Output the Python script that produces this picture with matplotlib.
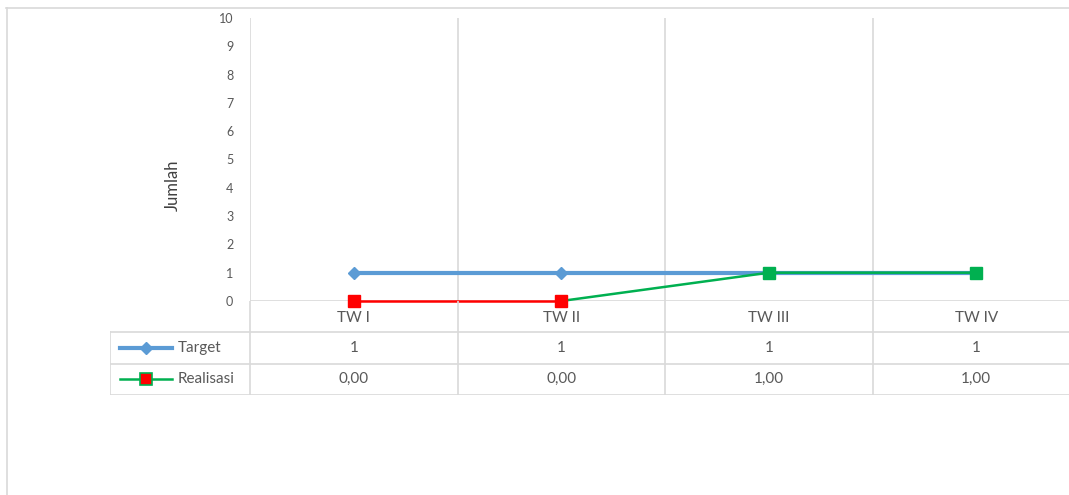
import matplotlib
matplotlib.use("Agg")
import matplotlib.pyplot as plt
from matplotlib.lines import Line2D

categories = ["TW I", "TW II", "TW III", "TW IV"]
target = [1, 1, 1, 1]
realisasi = [0.0, 0.0, 1.0, 1.0]
target_labels = ["1", "1", "1", "1"]
realisasi_labels = ["0,00", "0,00", "1,00", "1,00"]
y_ticks = list(range(0, 11))

blue = "#5B9BD5"
green = "#00B050"
red = "#FF0000"
grid = "#D9D9D9"
txt = "#595959"

plt.rcParams["font.family"] = ["Lato", "DejaVu Sans"]

W, H = 1069, 495
fig = plt.figure(figsize=(W / 100, H / 100), dpi=100)

# outer chart frame (cropped at right and bottom)
fig.add_artist(Line2D([6 / W, 1.01], [1 - 7.5 / H] * 2, color=grid, lw=1.2))
fig.add_artist(Line2D([6.5 / W] * 2, [1 - 7.5 / H, -0.01], color=grid, lw=1.2))

# pixel geometry of plot area
x0, col_w = 250, 207.5
x1 = x0 + 4 * col_w
top, base = 18, 301
tbl_bottom = 395
leg_left = 110

ax = fig.add_axes([x0 / W, 1 - base / H, (x1 - x0) / W, (base - top) / H])
ax.set_xlim(0, 4)
ax.set_ylim(0, 10)
for s in ax.spines.values():
    s.set_visible(False)
ax.set_yticks(y_ticks)
ax.tick_params(axis="y", length=0, labelsize=9, labelcolor=txt, pad=12)
ax.set_xticks([])
for i in range(0, 5):
    ax.axvline(i, color=grid, lw=1.2, zorder=0)
ax.axhline(0, color=grid, lw=1.2, zorder=0)
ax.set_ylabel("Jumlah", fontsize=12, color="#404040")
ax.yaxis.set_label_coords(-(x0 - 181) / (x1 - x0), 0.41)

xs = [i + 0.5 for i in range(len(categories))]
ax.plot(xs, target, color=blue, lw=3, marker="D", ms=6.5, zorder=3, clip_on=False)
# realisasi: red for first segment, green after
ax.plot(xs[:2], realisasi[:2], color=red, lw=1.8, zorder=4, clip_on=False)
ax.plot(xs[1:], realisasi[1:], color=green, lw=1.8, zorder=4, clip_on=False)
ax.plot(xs[:2], realisasi[:2], ls="none", marker="s", ms=8, color=red, zorder=5, clip_on=False)
ax.plot(xs[2:], realisasi[2:], ls="none", marker="s", ms=8, color=green, zorder=5, clip_on=False)

# data table below
tx = fig.add_axes([leg_left / W, 1 - tbl_bottom / H, (x1 - leg_left) / W, (tbl_bottom - base) / H])
tx.set_xlim(-(x0 - leg_left) / col_w, 4)
tx.set_ylim(3, 0)
tx.axis("off")
lx = -(x0 - leg_left) / col_w
for i in range(0, 5):
    tx.plot([i, i], [0, 3], color=grid, lw=1.2)
tx.plot([lx, lx], [1, 3], color=grid, lw=1.2)
for r in [1, 2, 3]:
    tx.plot([lx, 4], [r, r], color=grid, lw=1.2)

for i, c in enumerate(categories):
    tx.text(xs[i], 0.55, c, ha="center", va="center", fontsize=11, color=txt)
    tx.text(xs[i], 1.5, target_labels[i], ha="center", va="center", fontsize=11, color=txt)
    tx.text(xs[i], 2.5, realisasi_labels[i], ha="center", va="center", fontsize=11, color=txt)

# legend keys in table
kx0, kx1 = lx + 10 / col_w, lx + 62 / col_w
km = (kx0 + kx1) / 2
tx.plot([kx0, kx1], [1.5, 1.5], color=blue, lw=3)
tx.plot([km], [1.5], marker="D", ms=6.5, color=blue)
tx.plot([kx0, kx1], [2.5, 2.5], color=green, lw=1.8)
tx.plot([km], [2.5], marker="s", ms=8, color=red, mec=green, mew=1.2)
tx.text(lx + 68 / col_w, 1.5, "Target", ha="left", va="center", fontsize=11, color=txt)
tx.text(lx + 68 / col_w, 2.5, "Realisasi", ha="left", va="center", fontsize=11, color=txt)

fig.savefig("out.png", dpi=100)
